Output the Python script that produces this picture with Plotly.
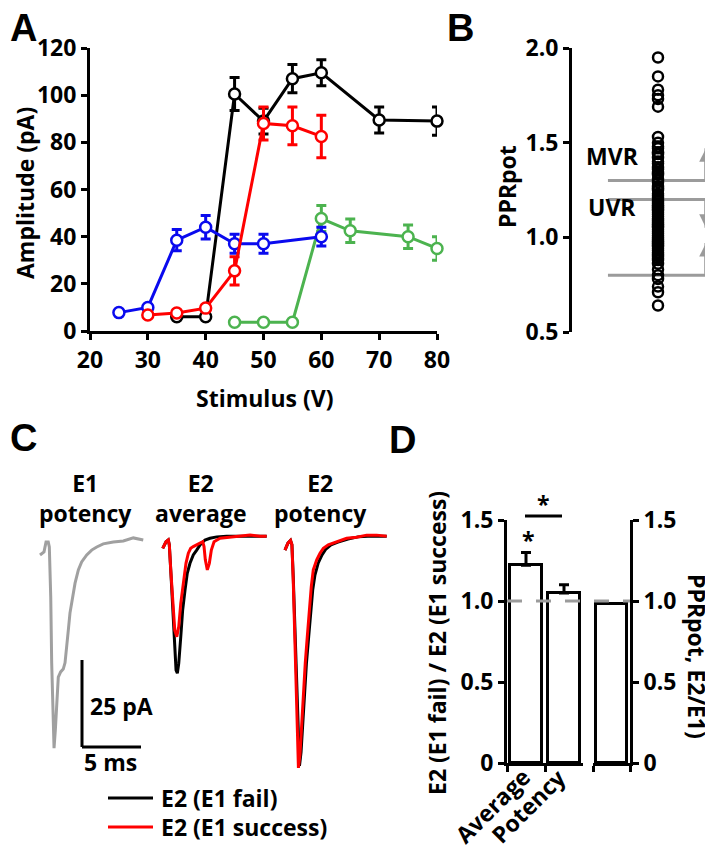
import plotly.graph_objects as go

# the page puts the figure 8px in from the top-left corner
PAGE_OFF = 8
W, H = 713 - PAGE_OFF, 853 - PAGE_OFF
FONT = "Open Sans"
GRAY = "#9b9b9b"


def fx(x):
    return (x - PAGE_OFF) / W


def fy(y):
    return 1 - (y - PAGE_OFF) / H


# ---------------- A: amplitude vs stimulus ----------------
stim_black = [35, 40, 45, 50, 55, 60, 70, 80]
amp_black = [6, 6, 100.5, 89, 107, 109.5, 89.5, 89]
sem_black = [0, 0, 7, 5.5, 6, 5.5, 5.5, 6]

stim_red = [30, 35, 40, 45, 50, 55, 60]
amp_red = [6.8, 7.6, 9.7, 25.5, 88, 87, 82.5]
sem_red = [0, 0, 0, 6, 7, 8, 9]

stim_blue = [25, 30, 35, 40, 45, 50, 60]
amp_blue = [7.8, 10, 38.5, 44, 37, 37, 40]
sem_blue = [0, 0, 4.5, 5, 4, 4, 4]

stim_green = [45, 50, 55, 60, 65, 75, 80]
amp_green = [3.7, 3.7, 3.7, 47.7, 42.5, 40, 35]
sem_green = [0, 0, 0, 5.5, 5, 5, 5]

# ---------------- B: PPRpot scatter ----------------
ppr_values = [1.95, 1.85, 1.78, 1.75, 1.73, 1.69, 1.53, 1.50, 1.48, 1.47, 1.45,
              1.44, 1.42, 1.40, 1.39, 1.37, 1.36, 1.34, 1.33, 1.31, 1.30, 1.29,
              1.27, 1.26, 1.25, 1.23, 1.22, 1.21, 1.20, 1.19, 1.18, 1.17, 1.16,
              1.15, 1.14, 1.13, 1.12, 1.11, 1.10, 1.09, 1.08, 1.07, 1.06, 1.05,
              1.04, 1.03, 1.02, 1.01, 1.00, 0.99, 0.98, 0.97, 0.96, 0.95, 0.94,
              0.93, 0.92, 0.91, 0.90, 0.89, 0.88, 0.86, 0.83, 0.80, 0.78, 0.74,
              0.71, 0.64]
range_levels = [1.3, 1.2, 0.8]      # MVR / UVR borders
range_arrow_tips = [1.47, 1.05, 0.97]

# ---------------- C: example traces (ms, pA) ----------------
e1_pot_t = [0, 0.34, 0.51, 0.70, 0.79, 0.91, 0.99, 1.08, 1.19, 1.30, 1.42, 1.55,
            1.75, 1.97, 2.12, 2.26, 2.40, 2.54, 2.77, 2.97, 3.25, 3.53, 3.96,
            4.38, 4.81, 5.36, 6.21, 7.06, 7.91, 8.75]
e1_pot_i = [-4.3, -3.4, -0.6, -0.6, -2.0, -16.4, -35.3, -50.9, -59.8, -54.6,
            -45.1, -39.4, -37.9, -37.1, -35.3, -29.6, -25.9, -21.0, -16.4,
            -12.4, -8.6, -6.3, -4.3, -2.9, -2.0, -1.1, -0.6, -0.3, 0.6, 0]

avg_fail_t = [0, 0.28, 0.47, 0.56, 0.68, 0.85, 1.02, 1.13, 1.24, 1.36, 1.53,
              1.69, 1.89, 2.08, 2.31, 2.59, 2.88, 3.16, 3.58, 4.01, 4.58, 5.42,
              6.55, 8.81]
avg_fail_i = [-2.4, -0.5, 0, -1.4, -8.6, -21.1, -30.7, -37.4, -38.3, -35.4,
              -27.8, -20.1, -14.4, -9.6, -6.7, -4.3, -2.9, -1.4, 0, 0.5, 0.9,
              1.1, 1.1, 1.1]

avg_succ_t = [0, 0.28, 0.47, 0.56, 0.68, 0.85, 1.02, 1.19, 1.36, 1.53, 1.75,
              1.97, 2.17, 2.37, 2.59, 2.88, 3.16, 3.39, 3.50, 3.61, 3.78, 3.95,
              4.12, 4.35, 4.86, 5.70, 6.55, 7.40, 8.25, 8.81]
avg_succ_i = [-2.4, -0.5, 0, -1.4, -8.6, -18.2, -25.9, -27.8, -24.9, -18.2,
              -11.5, -6.7, -3.8, -2.4, -1.9, -1.4, -0.9, -0.5, -1.9, -5.7, -8.6,
              -6.7, -2.9, -0.5, 0.5, 0.8, 1.1, 1.4, 1.1, 1.1]

pot_fail_t = [0, 0.25, 0.47, 0.59, 0.70, 0.83, 0.95, 1.08, 1.23, 1.36, 1.52,
              1.65, 1.82, 2.01, 2.18, 2.35, 2.54, 2.82, 3.14, 3.47, 3.90, 4.49,
              5.34, 6.19, 7.03, 8.62]
pot_fail_i = [-2.9, -0.9, -0.1, -1.4, -10.5, -24.0, -39.0, -54.0, -64.9, -61.0,
              -51.7, -45.0, -35.4, -27.8, -20.1, -14.4, -10.1, -6.6, -4.3, -2.6,
              -1.4, -0.6, 0.3, 0.9, 1.1, 1.1]

pot_succ_t = [0, 0.25, 0.47, 0.59, 0.70, 0.81, 0.91, 1.02, 1.14, 1.27, 1.42,
              1.55, 1.72, 1.89, 2.06, 2.23, 2.40, 2.69, 2.97, 3.25, 3.67, 4.38,
              5.23, 6.08, 6.92, 7.77, 8.62]
pot_succ_i = [-2.9, -0.9, -0.1, -1.4, -11.5, -25.9, -40.2, -54.6, -65.5, -61.8,
              -51.7, -45.0, -35.4, -27.8, -20.1, -13.4, -8.6, -5.7, -3.8, -2.4,
              -1.4, -0.5, 0.5, 0.8, 1.4, 1.4, 1.1]

scale_ms, scale_pa = 5, 25

# ---------------- D: bars ----------------
d_categories = ["Average", "Potency"]
d_ratio = [1.22, 1.05]
d_sem = [0.08, 0.05]
d_ppr = [0.98]

fig = go.Figure()

# A
for xs, ys, es, col in [(stim_black, amp_black, sem_black, "#000000"),
                        (stim_green, amp_green, sem_green, "#4cb34f"),
                        (stim_blue, amp_blue, sem_blue, "#0a0aee"),
                        (stim_red, amp_red, sem_red, "#ff0000")]:
    fig.add_trace(go.Scatter(
        x=xs, y=ys, mode="lines+markers", cliponaxis=False, showlegend=False,
        line=dict(color=col, width=3),
        marker=dict(symbol="circle", size=11, color="white", line=dict(color=col, width=2.5)),
        error_y=dict(type="data", array=es, color=col, thickness=3, width=5),
        xaxis="x", yaxis="y"))

# B: gray range brackets (horizontal run, then vertical run towards the arrow tip)
arrow_x = 0.95
for lvl, tip in zip(range_levels, range_arrow_tips):
    fig.add_trace(go.Scatter(x=[0.255, arrow_x, arrow_x], y=[lvl, lvl, tip], mode="lines",
                             line=dict(color=GRAY, width=3), showlegend=False,
                             cliponaxis=False, xaxis="x2", yaxis="y2"))
fig.add_trace(go.Scatter(
    x=[0.61] * len(ppr_values), y=ppr_values, mode="markers", cliponaxis=False,
    marker=dict(symbol="circle-open", size=10, color="black", line=dict(width=2.5)),
    showlegend=False, xaxis="x2", yaxis="y2"))

# C
c_offsets = [0, 10.4, 20.76]
fig.add_trace(go.Scatter(x=[t + c_offsets[0] for t in e1_pot_t], y=e1_pot_i, mode="lines",
                         line=dict(color="#a0a0a0", width=3), showlegend=False,
                         xaxis="x3", yaxis="y3"))
fig.add_trace(go.Scatter(x=[t + c_offsets[1] for t in avg_fail_t], y=avg_fail_i, mode="lines",
                         line=dict(color="black", width=3), showlegend=False,
                         xaxis="x3", yaxis="y3"))
fig.add_trace(go.Scatter(x=[t + c_offsets[1] for t in avg_succ_t], y=avg_succ_i, mode="lines",
                         line=dict(color="#ff0000", width=3), showlegend=False,
                         xaxis="x3", yaxis="y3"))
fig.add_trace(go.Scatter(x=[t + c_offsets[2] for t in pot_fail_t], y=pot_fail_i, mode="lines",
                         line=dict(color="black", width=3), showlegend=False,
                         xaxis="x3", yaxis="y3"))
fig.add_trace(go.Scatter(x=[t + c_offsets[2] for t in pot_succ_t], y=pot_succ_i, mode="lines",
                         line=dict(color="#ff0000", width=3), showlegend=False,
                         xaxis="x3", yaxis="y3"))

# D
bar_marker = dict(color="white", line=dict(color="black", width=3))
fig.add_trace(go.Bar(x=d_categories, y=d_ratio, width=0.82, marker=bar_marker,
                     error_y=dict(type="data", array=d_sem, arrayminus=[0] * len(d_sem),
                                  symmetric=False, color="black", thickness=3, width=5),
                     showlegend=False, xaxis="x4", yaxis="y4"))
fig.add_trace(go.Bar(x=["PPRpot"], y=d_ppr, width=0.86, marker=bar_marker,
                     showlegend=False, xaxis="x5", yaxis="y5"))

tickfont = dict(family=FONT, size=23, color="black", weight="bold")
axis_common = dict(showline=True, linewidth=3, linecolor="black", ticks="outside",
                   ticklen=6, tickwidth=3, tickcolor="black", showgrid=False,
                   zeroline=False, tickfont=tickfont, automargin=False)

fig.update_layout(
    template="none",
    width=W, height=H, margin=dict(l=0, r=0, t=0, b=0, autoexpand=False),
    paper_bgcolor="white", plot_bgcolor="white",
    font=dict(family=FONT, size=23, color="black", weight="bold"),
    bargap=0, showlegend=False,
    xaxis=dict(domain=[fx(90), fx(437)], range=[20, 80], dtick=10, anchor="y", **axis_common),
    yaxis=dict(domain=[fy(331), fy(48)], range=[0, 120], dtick=20, anchor="x", **axis_common),
    xaxis2=dict(domain=[fx(572), 1], range=[0, 1], visible=False, anchor="y2"),
    yaxis2=dict(domain=[fy(332), fy(48)], range=[0.5, 2.0], dtick=0.5, tickformat=".1f",
                anchor="x2", **axis_common),
    xaxis3=dict(domain=[0, fx(400)], range=[-32 / 11.8, 360 / 11.8], visible=False, anchor="y3"),
    yaxis3=dict(domain=[fy(790), fy(520)], range=[-250 / 3.48, 20 / 3.48], visible=False, anchor="x3"),
    xaxis4=dict(domain=[fx(507), fx(583)], type="category", range=[-0.5, 1.5],
                tickson="boundaries", showticklabels=False, anchor="y4", **axis_common),
    yaxis4=dict(domain=[fy(763), fy(520)], range=[0, 1.5], tickvals=[0, 0.5, 1, 1.5],
                ticktext=["0", "0.5", "1.0", "1.5"], anchor="x4", **axis_common),
    xaxis5=dict(domain=[fx(593), fx(630)], type="category", range=[-0.5, 0.5],
                tickson="boundaries", showticklabels=False, anchor="y5", **axis_common),
    yaxis5=dict(domain=[fy(763), fy(520)], range=[0, 1.5], tickvals=[0, 0.5, 1, 1.5],
                ticktext=["0", "0.5", "1.0", "1.5"], side="right", anchor="x5", **axis_common),
)

# scale bar in C
bar_t0 = (82 - 40) / 11.8
bar_i0 = (540 - 747) / 3.48
fig.add_shape(type="line", xref="x3", yref="y3", x0=bar_t0, x1=bar_t0,
              y0=bar_i0, y1=bar_i0 + scale_pa, line=dict(color="black", width=3))
fig.add_shape(type="line", xref="x3", yref="y3", x0=bar_t0, x1=bar_t0 + scale_ms,
              y0=bar_i0, y1=bar_i0, line=dict(color="black", width=3))

# legend keys for C
for yk, col in [(798, "black"), (827, "#ff0000")]:
    fig.add_shape(type="line", xref="paper", yref="paper", x0=fx(108), x1=fx(153),
                  y0=fy(yk), y1=fy(yk), line=dict(color=col, width=3))

# dashed reference line in D
fig.add_shape(type="line", xref="paper", yref="y4", x0=fx(507), x1=fx(630), y0=1, y1=1,
              layer="above", line=dict(color=GRAY, width=3, dash="15px,14px"))
# significance bar
fig.add_shape(type="line", xref="paper", yref="paper", x0=fx(525), x1=fx(562),
              y0=fy(516), y1=fy(516), line=dict(color="black", width=3))

ann = []


def text(x, y, s, size=23, angle=0, xanchor="center", family=FONT, xref="paper", yref="paper"):
    ann.append(dict(x=x, y=y, xref=xref, yref=yref, text=s, showarrow=False,
                    textangle=angle, xanchor=xanchor, yanchor="middle",
                    font=dict(family=family, size=size, color="black", weight="bold")))


# panel letters
text(0, fy(28), "A", size=38, family="Liberation Sans", xanchor="left")
text(fx(460), fy(28), "B", size=38, family="Liberation Sans")
text(0, fy(438), "C", size=38, family="Liberation Sans", xanchor="left")
text(fx(402), fy(440), "D", size=38, family="Liberation Sans")

# A titles
text(fx(25), fy(193), "Amplitude (pA)", angle=-90)
text(fx(264), fy(398), "Stimulus (V)")
# B
text(fx(507), fy(187), "PPRpot", angle=-90)
text(0.29, 1.43, "MVR", xref="x2", yref="y2")
text(0.284, 1.16, "UVR", xref="x2", yref="y2")
for lvl, tip in zip(range_levels, range_arrow_tips):
    ann.append(dict(x=arrow_x, y=tip, ax=arrow_x, ay=lvl, xref="x2", yref="y2",
                    axref="x2", ayref="y2", text="", showarrow=True, arrowhead=2,
                    arrowsize=0.9, arrowwidth=3, arrowcolor=GRAY, standoff=0))
# C
text(fx(85), fy(498), "E1<br>potency")
text(fx(200), fy(498), "E2<br>average")
text(fx(320), fy(498), "E2<br>potency")
text(fx(88), fy(706), "25 pA", xanchor="left")
text(fx(82), fy(762), "5 ms", xanchor="left")
text(fx(159), fy(798), "E2 (E1 fail)", xanchor="left")
text(fx(159), fy(827), "E2 (E1 success)", xanchor="left")
# D
text(fx(437), fy(643), "E2 (E1 fail) / E2 (E1 success)", angle=-90)
text(fx(697), fy(656), "PPRpot, E2/E1)", angle=90)
text(fx(492), fy(806), d_categories[0], angle=-45)
text(fx(528), fy(806), d_categories[1], angle=-45)
text(fx(528), fy(540), "*")
text(fx(543), fy(504), "*")

fig.update_layout(annotations=ann)
fig.write_html("out.html")
